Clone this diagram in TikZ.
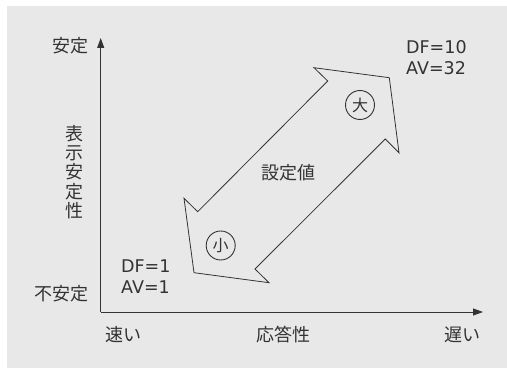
\documentclass[tikz,border=0pt]{standalone}
\usepackage{fontspec}
\setmainfont{DejaVu Sans}
\newfontfamily\jpfont{Noto Sans CJK JP}
\usetikzlibrary{arrows.meta}
\definecolor{panelgray}{HTML}{E8E8E8}
\definecolor{inkgray}{HTML}{333333}
\tikzset{
  axis/.style = {draw = inkgray, line width = 0.9pt, -{Triangle[length = 10pt, width = 7pt]}},
  jplabel/.style = {text = inkgray, font = \jpfont\fontsize{18}{20}\selectfont, inner sep = 0pt},
  numlabel/.style = {text = inkgray, font = \fontsize{17.5}{21}\selectfont, align = left, inner sep = 0pt, anchor = west},
  sizemark/.style = {circle, draw = inkgray, line width = 0.9pt, minimum size = 29pt, inner sep = 0pt, text = inkgray, font = \jpfont\fontsize{16}{16}\selectfont}
}
\begin{document}
\begin{tikzpicture} [x = 1pt, y = -1pt]
	\useasboundingbox (0,0) rectangle (507,369);
	\fill [panelgray] (7,6) rectangle (507,368);
	% axes
	\coordinate (origin) at (100.7,312);
	\coordinate (ytip) at (100.7,38);
	\coordinate (xtip) at (483,312);
	\draw [axis] (origin) -- (ytip);
	\draw [axis] (origin) -- (xtip);
	% double arrow of the setting value
	\draw [inkgray, line width = 0.8pt, fill = panelgray]
		(327.7,81) -- (314,67.7) -- (389.3,77.7) -- (399,152.7) -- (385.3,139)
		-- (255,269) -- (269,282.7) -- (194,272.7) -- (184,198.3) -- (197.7,211.7) -- cycle;
	\node [sizemark] (large) at (360,105) {大};
	\node [sizemark] (small) at (220.7,245.5) {小};
	\node [jplabel] (setval) at (288,173) {設定値};
	% axis labels
	\node [jplabel, anchor = east] (stable) at (89,46) {安定};
	\node [jplabel, anchor = east] (unstable) at (89,294) {不安定};
	\node [jplabel, align = center, font = \jpfont\fontsize{18}{19.3}\selectfont] (dispstab) at (74,172) {表\\示\\安\\定\\性};
	\node [jplabel] (fast) at (123,335) {速い};
	\node [jplabel] (resp) at (283,335) {応答性};
	\node [jplabel] (slow) at (462,335) {遅い};
	% values at both ends
	\node [numlabel] (bigval) at (406,57.5) {DF=10\\AV=32};
	\node [numlabel] (smallval) at (121,277) {DF=1\\AV=1};
\end{tikzpicture}
\end{document}
